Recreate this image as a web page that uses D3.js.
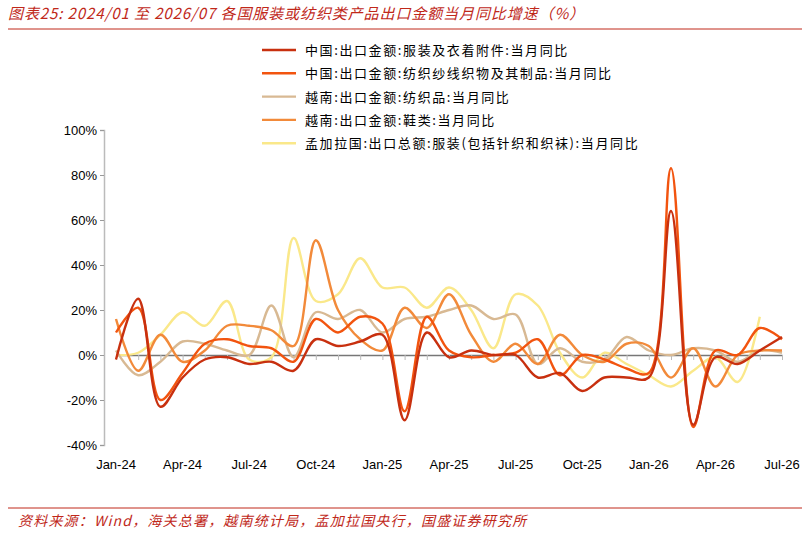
<!DOCTYPE html><html><head><meta charset="utf-8"><script src="https://cdn.jsdelivr.net/npm/d3@7"></script>
<style>body{margin:0;background:#fff}</style></head><body><svg id="c" width="810" height="534"></svg><script>
const months=d3.range(31);
const xTicks=[0,3,6,9,12,15,18,21,24,27,30];
const xTickLabels=["Jan-24","Apr-24","Jul-24","Oct-24","Jan-25","Apr-25","Jul-25","Oct-25","Jan-26","Apr-26","Jul-26"];
const yTicks=[-40,-20,0,20,40,60,80,100];
const names=["中国:出口金额:服装及衣着附件:当月同比","中国:出口金额:纺织纱线织物及其制品:当月同比","越南:出口金额:纺织品:当月同比","越南:出口金额:鞋类:当月同比","孟加拉国:出口总额:服装(包括针织和织袜):当月同比"];
const colors=["#C8300F","#F2540F","#D8B993","#F28A3A","#FAE88A"];
const cnApparel=[-2,25,-23,-10,-2,-1,-4,-3,-7,7,4,6,9,-29,10,-1,2,0,0,-10,-8,-16,-10,-10,-10,64,-31,-1,-4,2,8];
const cnTextile=[10,21,-20,-8,5,7,4,3,-3,16,10,17,14,-25,17,2,-1,0,1,7,-9,0,-2,-6,-8,83,-32,2,0,12,7];
const vnTextile=[2,-9,-3,6,5,2,0,22,-1,19,16,20,10,16,17,20,22,16,18,-4,3,-3,-2,8,2,0,3,2,-3,2,1];
const vnShoes=[16,-7,9,-3,2,13,13,11,4,51,20,7,2,21,12,27,9,-3,5,-4,9,0,-3,5,4,-10,3,-14,0,2,2];
const bdApparel=[0,1,9,19,13,24,-2,-1,52,24,27,43,30,30,21,30,20,3,27,22,1,-10,1,-4,-9,-14,-7,-1,-12,17];
const series=[cnApparel,cnTextile,vnTextile,vnShoes,bdApparel];
const svg=d3.select("#c");
const red="#C0281A";
svg.append("text").attr("x",8).attr("y",19).attr("fill",red).attr("font-style","italic").attr("font-size",15).attr("letter-spacing",0.9).attr("font-family","Noto Sans CJK SC").text("图表25:  2024/01 至 2026/07 各国服装或纺织类产品出口金额当月同比增速（%）");
svg.append("line").attr("x1",8).attr("x2",802).attr("y1",29).attr("y2",29).attr("stroke",red).attr("stroke-width",1);
svg.append("line").attr("x1",8).attr("x2",802).attr("y1",508).attr("y2",508).attr("stroke",red).attr("stroke-width",1);
svg.append("text").attr("x",18).attr("y",526).attr("fill",red).attr("font-style","italic").attr("font-size",14).attr("letter-spacing",1.2).attr("font-family","Noto Sans CJK SC").text("资料来源：Wind，海关总署，越南统计局，孟加拉国央行，国盛证券研究所");
const x=d3.scaleLinear().domain([0,30]).range([116,782]);
const y=d3.scaleLinear().domain([-40,100]).range([445,130]);
const ax=svg.append("g").attr("transform","translate(104,0)").call(d3.axisLeft(y).tickValues(yTicks).tickFormat(d=>d+"%").tickSize(4));
ax.select(".domain").attr("stroke","#bbb").attr("stroke-width",1.5);
ax.selectAll(".tick line").attr("stroke","#999");
ax.selectAll("text").attr("font-size",13).attr("font-family","Liberation Sans").attr("fill","#000");
const bx=svg.append("g").attr("transform",`translate(0,${y(0)})`).call(d3.axisBottom(x).tickValues(months).tickFormat("").tickSize(5).tickSizeOuter(0));
bx.select(".domain").attr("stroke","#777").attr("stroke-width",1.5);
bx.selectAll(".tick line").attr("stroke","#bbb");
svg.append("g").selectAll("text").data(xTicks).join("text").attr("x",d=>x(d)).attr("y",469).attr("text-anchor","middle").attr("font-size",13).attr("font-family","Liberation Sans").text((d,i)=>xTickLabels[i]);
const line=d3.line().x((d,i)=>x(i)).y(d=>y(d)).curve(d3.curveCatmullRom.alpha(0.5));
[4,2,3,1,0].forEach(k=>svg.append("path").attr("d",line(series[k])).attr("fill","none").attr("stroke",colors[k]).attr("stroke-width",2.4));
const lg=svg.append("g");
names.forEach((n,i)=>{const yy=50+i*23.3;
lg.append("line").attr("x1",262).attr("x2",296).attr("y1",yy).attr("y2",yy).attr("stroke",colors[i]).attr("stroke-width",2.4);
lg.append("text").attr("x",305).attr("y",yy+5).attr("font-size",13).attr("letter-spacing",1.6).attr("font-family","Noto Sans CJK SC").text(n);});
</script></body></html>
